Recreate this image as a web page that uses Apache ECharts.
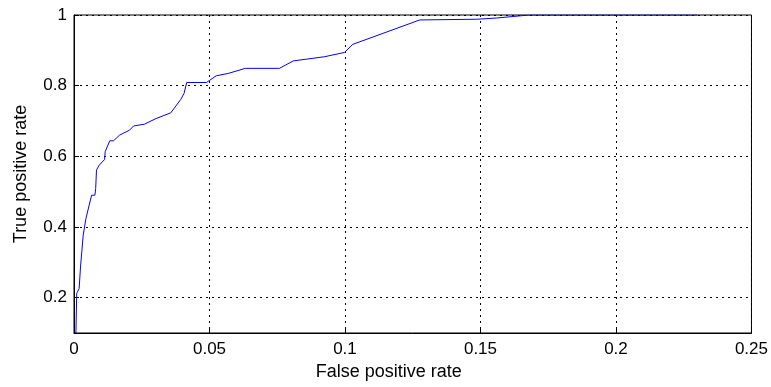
<!DOCTYPE html>
<html><head><meta charset="utf-8">
<script src="https://cdn.jsdelivr.net/npm/echarts@6/dist/echarts.min.js"></script>
<style>html,body{margin:0;padding:0;background:#fff}#c{width:771px;height:387px}</style>
</head><body><div id="c"></div>
<script>
const fpr = [0.0007,0.0010,0.0019,0.0024,0.0034,0.0044,0.0056,0.0065,0.0077,0.0080,0.0083,0.0093,0.0113,0.0115,0.0132,0.0146,0.0168,0.0205,0.0220,0.0260,0.0303,0.0357,0.0394,0.0406,0.0416,0.0489,0.0525,0.0571,0.0632,0.0758,0.0809,0.0925,0.0998,0.1029,0.1276,0.1486,0.1560,0.1680,0.2300];
const tpr = [0.100,0.212,0.226,0.287,0.377,0.424,0.462,0.490,0.490,0.509,0.561,0.575,0.591,0.613,0.644,0.644,0.660,0.674,0.686,0.691,0.707,0.723,0.761,0.778,0.809,0.809,0.828,0.835,0.849,0.849,0.870,0.882,0.894,0.917,0.986,0.988,0.9915,1.000,1.000];
const xTicks = [0,0.05,0.1,0.15,0.2,0.25];
const yTicks = [0.2,0.4,0.6,0.8,1];
const FONT = '"Liberation Sans", Arial, sans-serif';
const chart = echarts.init(document.getElementById('c'));
const dotted = {color:'#000', width:1, type:[2,4]};
chart.setOption({
  animation:false,
  grid:{left:74,right:14,top:15,bottom:54,show:true,borderColor:'#000',borderWidth:1,backgroundColor:'transparent'},
  xAxis:{type:'value',min:0,max:0.25,interval:0.05,
    name:'False positive rate',nameLocation:'middle',nameGap:29,
    nameTextStyle:{color:'#000',fontSize:18,fontFamily:FONT,padding:[0,48,0,0]},
    axisLine:{lineStyle:{color:'#000',width:1}},
    axisTick:{inside:true,length:5,lineStyle:{color:'#000'}},
    axisLabel:{color:'#000',fontSize:17,fontFamily:FONT,margin:8,formatter:v=>String(+v.toFixed(2))},
    splitLine:{show:true,lineStyle:dotted}},
  yAxis:{type:'value',min:0.1,max:1,
    name:'True positive rate',nameLocation:'middle',nameGap:44,nameRotate:90,
    nameTextStyle:{color:'#000',fontSize:18,fontFamily:FONT},
    axisLine:{show:true,lineStyle:{color:'#000',width:1}},
    axisTick:{show:true,inside:true,length:5,customValues:yTicks,lineStyle:{color:'#000'}},
    axisLabel:{color:'#000',fontSize:17,fontFamily:FONT,margin:7,customValues:yTicks,formatter:v=>String(+v.toFixed(1))},
    splitLine:{show:true,lineStyle:dotted}},
  series:[{type:'line',data:fpr.map((x,i)=>[x,tpr[i]]),showSymbol:false,symbol:'none',
    lineStyle:{color:'#0000ff',width:1},clip:true}]
});
</script></body></html>
